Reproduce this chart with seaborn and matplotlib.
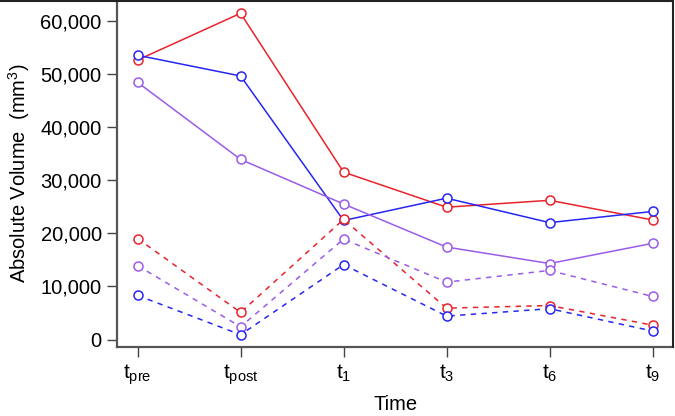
import matplotlib
matplotlib.use("Agg")
import matplotlib.pyplot as plt
import seaborn as sns
import pandas as pd
from matplotlib.lines import Line2D

sns.set_style("ticks")
plt.rcParams["font.family"] = ["Liberation Sans", "DejaVu Sans"]
plt.rcParams["mathtext.fontset"] = "custom"
plt.rcParams["mathtext.rm"] = "Liberation Sans"
plt.rcParams["mathtext.it"] = "Liberation Sans"
plt.rcParams["text.color"] = "black"
plt.rcParams["axes.labelcolor"] = "black"
plt.rcParams["xtick.labelcolor"] = "black"
plt.rcParams["ytick.labelcolor"] = "black"

# ------------------------------------------------------------
# Datos
# ------------------------------------------------------------
time_points = ["pre", "post", "1", "3", "6", "9"]
tick_labels = [r"$\mathregular{t_{%s}}$" % t for t in time_points]

red_solid = [52600, 61400, 31500, 24900, 26200, 22500]
blue_solid = [53500, 49600, 22400, 26600, 22000, 24100]
purple_solid = [48400, 33900, 25500, 17400, 14300, 18100]
red_dashed = [19000, 5100, 22600, 5900, 6400, 2700]
purple_dashed = [13900, 2400, 18900, 10800, 13000, 8100]
blue_dashed = [8300, 900, 14100, 4400, 5800, 1600]

RED = "#E8232B"
BLUE = "#2626F0"
PURPLE = "#9A5CE8"

series = [
    (red_solid, RED, "-"),
    (blue_solid, BLUE, "-"),
    (purple_solid, PURPLE, "-"),
    (red_dashed, RED, "--"),
    (purple_dashed, PURPLE, "--"),
    (blue_dashed, BLUE, "--"),
]

# ------------------------------------------------------------
# Gráfico
# ------------------------------------------------------------
fig = plt.figure(figsize=(6.75, 4.16), dpi=100)
ax = fig.add_axes([0.1733, 0.166, 0.824, 0.834])

x = list(range(len(time_points)))
for values, color, ls in series:
    df = pd.DataFrame({"t": x, "vol": values})
    sns.lineplot(data=df, x="t", y="vol", ax=ax, color=color, linewidth=1.1,
                 marker="o", markersize=6.5, markerfacecolor="white",
                 markeredgecolor=color, markeredgewidth=1.1)
    if ls == "--":
        ax.lines[-1].set_dashes((3.5, 3.5))

ax.set_xlim(-0.2, 5.2)
ax.set_ylim(-1400, 63900)
ax.set_xticks(x)
ax.set_xticklabels(tick_labels, fontsize=15)
ax.set_yticks(range(0, 60001, 10000))
ax.set_yticklabels([f"{v:,}" for v in range(0, 60001, 10000)], fontsize=14.5)
ax.set_xlabel("Time", fontsize=14.5, labelpad=6)
ax.set_ylabel(r"Absolute Volume  (mm$\mathregular{^3}$)", fontsize=14.5, labelpad=6)

for side in ["top", "right"]:
    ax.spines[side].set_visible(False)
for side in ["left", "bottom"]:
    ax.spines[side].set_color("#555555")
    ax.spines[side].set_linewidth(1.6)
ax.tick_params(axis="both", direction="out", length=7, width=1.0, color="#444444", pad=4)

# marco fino arriba y a la derecha
fig.add_artist(Line2D([0, 0.997], [0.998, 0.998], color="#222222", lw=1.5, transform=fig.transFigure))
fig.add_artist(Line2D([0.997, 0.997], [0.166, 1.0], color="#222222", lw=1.5, transform=fig.transFigure))

plt.savefig("out.png", dpi=100)
